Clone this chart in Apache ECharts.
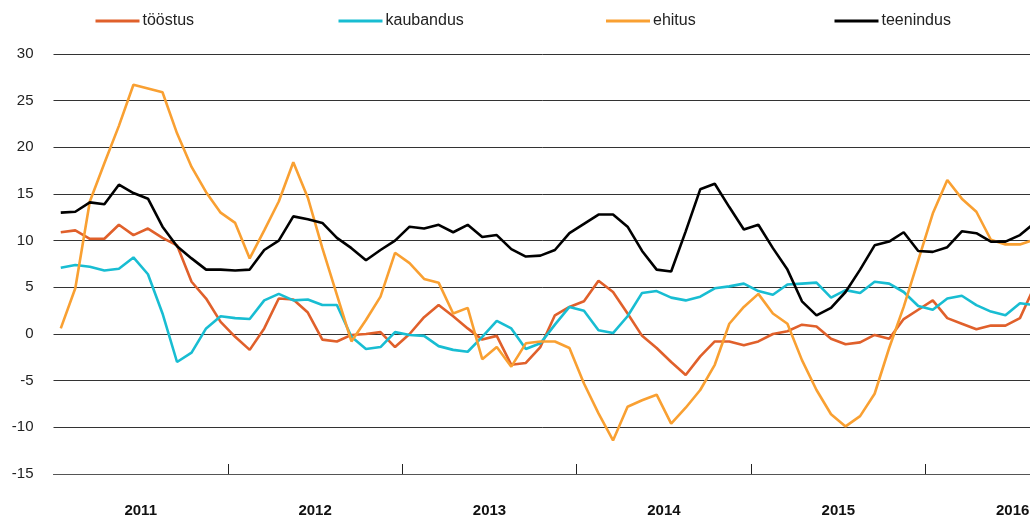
<!DOCTYPE html>
<html>
<head>
<meta charset="utf-8">
<script src="https://cdn.jsdelivr.net/npm/echarts@6/dist/echarts.min.js"></script>
<style>
html,body{margin:0;padding:0;background:#fff;}
#chart{width:1030px;height:517px;}
</style>
</head>
<body>
<div id="chart"></div>
<script>
const years = ['2011','2012','2013','2014','2015','2016'];
const monthNames = ['01','02','03','04','05','06','07','08','09','10','11','12'];
const categories = [];
years.forEach(y => monthNames.forEach(m => categories.push(y + '-' + m)));

const seriesNames = ['tööstus','kaubandus','ehitus','teenindus'];

const toostus = [
  10.9, 11.1, 10.2, 10.2, 11.7, 10.6, 11.3, 10.3, 9.5, 5.6,
  3.8, 1.3, -0.3, -1.7, 0.6, 3.8, 3.7, 2.3, -0.6, -0.8,
  -0.1, 0.0, 0.2, -1.4, 0.0, 1.8, 3.1, 1.9, 0.6, -0.6,
  -0.2, -3.3, -3.1, -1.4, 2.0, 2.9, 3.5, 5.7, 4.5, 2.2,
  -0.2, -1.5, -3.0, -4.4, -2.4, -0.8, -0.8, -1.2, -0.8, 0.0,
  0.3, 1.0, 0.8, -0.5, -1.1, -0.9, -0.1, -0.5, 1.6, 2.6,
  3.6, 1.7, 1.1, 0.5, 0.9, 0.9, 1.7, 5.1
];
const kaubandus = [
  7.1, 7.4, 7.2, 6.8, 7.0, 8.2, 6.4, 2.2, -3.0, -2.0,
  0.6, 1.9, 1.7, 1.6, 3.6, 4.3, 3.6, 3.7, 3.1, 3.1,
  -0.3, -1.6, -1.4, 0.2, -0.1, -0.2, -1.3, -1.7, -1.9, -0.3,
  1.4, 0.6, -1.6, -1.0, 1.0, 2.9, 2.5, 0.4, 0.1, 1.9,
  4.4, 4.6, 3.9, 3.6, 4.0, 4.9, 5.1, 5.4, 4.6, 4.2,
  5.3, 5.4, 5.5, 3.9, 4.7, 4.4, 5.6, 5.4, 4.5, 3.0,
  2.6, 3.8, 4.1, 3.1, 2.4, 2.0, 3.3, 3.1
];
const ehitus = [
  0.6, 4.9, 14.2, 18.3, 22.3, 26.7, 26.3, 25.9, 21.5, 17.9,
  15.2, 13.0, 11.9, 8.1, 11.1, 14.2, 18.4, 14.6, 9.2, 4.2,
  -0.8, 1.5, 4.0, 8.7, 7.6, 5.9, 5.5, 2.2, 2.8, -2.7,
  -1.4, -3.5, -1.0, -0.8, -0.8, -1.5, -5.3, -8.5, -11.4, -7.8,
  -7.1, -6.5, -9.6, -7.9, -6.0, -3.3, 1.1, 2.9, 4.3, 2.2,
  1.1, -2.8, -6.0, -8.6, -9.9, -8.8, -6.4, -1.5, 2.9, 7.9,
  12.9, 16.5, 14.5, 13.1, 10.1, 9.6, 9.6, 10.1
];
const teenindus = [
  13.0, 13.1, 14.1, 13.9, 16.0, 15.1, 14.5, 11.5, 9.4, 8.1,
  6.9, 6.9, 6.8, 6.9, 9.0, 10.0, 12.6, 12.3, 11.9, 10.3,
  9.2, 7.9, 9.0, 10.0, 11.5, 11.3, 11.7, 10.9, 11.7, 10.4,
  10.6, 9.1, 8.3, 8.4, 9.0, 10.8, 11.8, 12.8, 12.8, 11.5,
  8.9, 6.9, 6.7, 11.0, 15.5, 16.1, 13.6, 11.2, 11.7, 9.2,
  6.9, 3.5, 2.0, 2.8, 4.5, 6.9, 9.5, 9.9, 10.9, 8.9,
  8.8, 9.3, 11.0, 10.8, 9.9, 9.9, 10.6, 11.9
];

const yTicks = [-15, -10, -5, 0, 5, 10, 15, 20, 25, 30];

const colors = ['#E0602B', '#18BDD2', '#F9A032', '#000000'];
const values = [toostus, kaubandus, ehitus, teenindus];
const legendLeft = [95.5, 338.5, 606, 834.5];

const FONT = "'Liberation Sans', Arial, Helvetica, sans-serif";

const chart = echarts.init(document.getElementById('chart'), null, {renderer: 'canvas'});

const option = {
  animation: false,
  backgroundColor: '#ffffff',
  textStyle: {fontFamily: FONT},
  legend: seriesNames.map((n, i) => ({
    data: [n],
    left: legendLeft[i],
    top: 13,
    icon: 'rect',
    itemWidth: 44,
    itemHeight: 3,
    padding: 0,
    selectedMode: false,
    textStyle: {fontFamily: FONT, fontSize: 16, color: '#222', padding: [1, 0, 0, -2]}
  })),
  grid: {left: 53.5, top: 54, width: 1046.4, height: 420, containLabel: false, outerBoundsMode: 'none'},
  xAxis: [
    {
      type: 'category',
      data: categories,
      boundaryGap: true,
      position: 'top',
      show: false
    },
    {
      type: 'value',
      min: 0,
      max: years.length * 12,
      position: 'bottom',
      axisLine: {show: true, lineStyle: {color: '#555', width: 1}},
      axisTick: {
        show: true,
        inside: true,
        length: 10,
        lineStyle: {color: '#222', width: 1},
        customValues: years.slice(1).map((y, i) => (i + 1) * 12)
      },
      axisLabel: {
        show: true,
        customValues: years.map((y, i) => i * 12 + 6),
        formatter: v => years[(v - 6) / 12],
        fontFamily: FONT,
        fontWeight: 'bold',
        fontSize: 15,
        color: '#111',
        margin: 29
      },
      splitLine: {show: false}
    }
  ],
  yAxis: {
    type: 'value',
    min: yTicks[0],
    max: yTicks[yTicks.length - 1],
    interval: 5,
    axisLine: {show: false},
    axisTick: {show: false},
    axisLabel: {fontFamily: FONT, fontSize: 15, color: '#222', margin: 20, padding: [4, 0, 0, 0]},
    splitLine: {show: true, lineStyle: {color: '#333', width: 1}}
  },
  series: seriesNames.map((n, i) => ({
    name: n,
    type: 'line',
    xAxisIndex: 0,
    yAxisIndex: 0,
    data: values[i],
    showSymbol: false,
    symbol: 'none',
    color: colors[i],
    lineStyle: {color: colors[i], width: 2.6},
    z: 2 + i
  }))
};

chart.setOption(option);
</script>
</body>
</html>
